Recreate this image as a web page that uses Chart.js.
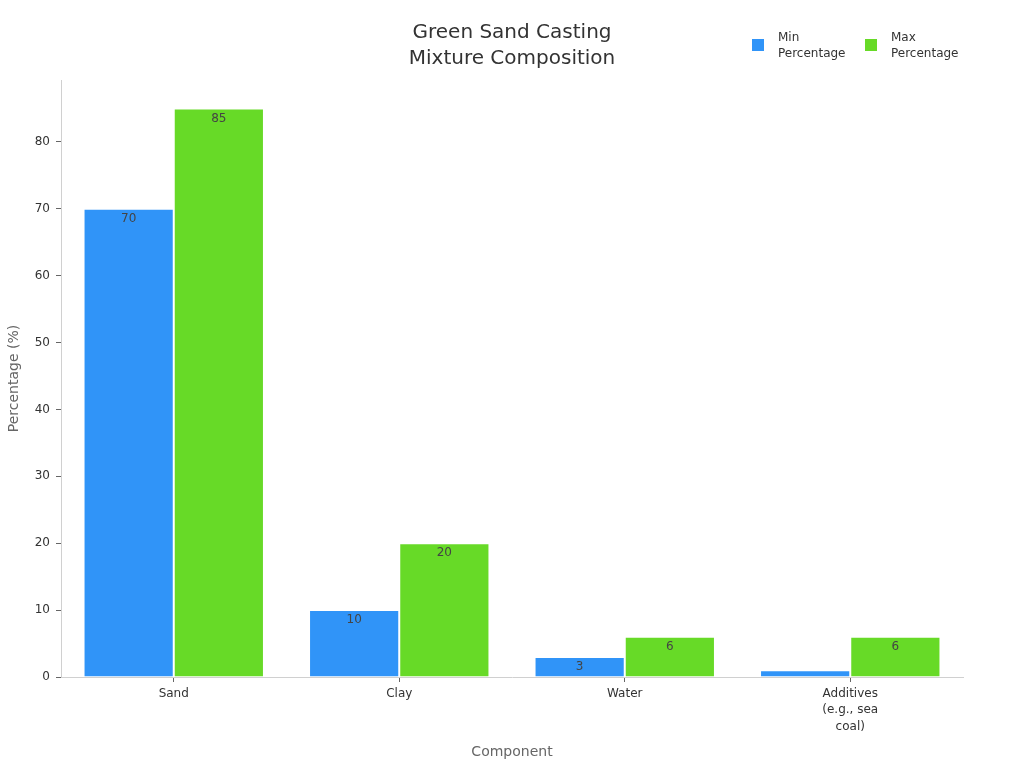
<!DOCTYPE html>
<html>
<head>
<meta charset="utf-8">
<script src="https://cdn.jsdelivr.net/npm/chart.js@4"></script>
<style>
  html, body { margin: 0; padding: 0; background: #fff; }
  #wrap { width: 1024px; height: 768px; }
</style>
</head>
<body>
<div id="wrap"><canvas id="chart" width="1024" height="768"></canvas></div>
<script>
const categories = ['Sand', 'Clay', 'Water', ['Additives', '(e.g., sea', 'coal)']]
const minValues = [70, 10, 3, 1]
const maxValues = [85, 20, 6, 6]
const seriesNames = [['Min', 'Percentage'], ['Max', 'Percentage']]
const seriesColors = ['#3094F8', '#67DA27']

const FONT = "'DejaVu Sans', sans-serif"

// подписи значений внутри столбцов
const barLabels = {
    id: 'barLabels',
    afterDatasetsDraw(chart) {
        const ctx = chart.ctx
        ctx.save()
        ctx.font = '12px ' + FONT
        ctx.fillStyle = '#444'
        ctx.textAlign = 'center'
        ctx.textBaseline = 'middle'
        chart.data.datasets.forEach((ds, i) => {
            chart.getDatasetMeta(i).data.forEach((bar, j) => {
                if (bar.base - bar.y < 14) return
                ctx.fillText(String(ds.data[j]), bar.x, bar.y + 10)
            })
        })
        ctx.restore()
    }
}

// легенда справа вверху, подписи в две строки
const sideLegend = {
    id: 'sideLegend',
    afterDraw(chart) {
        const ctx = chart.ctx
        const xs = [752, 865]
        ctx.save()
        ctx.font = '12px ' + FONT
        ctx.textBaseline = 'middle'
        ctx.textAlign = 'left'
        seriesNames.forEach((lines, i) => {
            ctx.fillStyle = seriesColors[i]
            ctx.fillRect(xs[i], 39, 12, 12)
            ctx.fillStyle = '#333'
            lines.forEach((t, k) => ctx.fillText(t, xs[i] + 26, 38 + k * 16))
        })
        ctx.restore()
    }
}

function drawChart() {
    const ctx = document.getElementById('chart')
    new Chart(ctx, {
        type: 'bar',
        data: {
            labels: categories,
            datasets: [{
                label: seriesNames[0].join(' '),
                data: minValues,
                backgroundColor: seriesColors[0],
                borderColor: 'rgba(255,255,255,0.45)',
                borderWidth: 1
            }, {
                label: seriesNames[1].join(' '),
                data: maxValues,
                backgroundColor: seriesColors[1],
                borderColor: 'rgba(255,255,255,0.45)',
                borderWidth: 1
            }]
        },
        options: {
            responsive: false,
            animation: false,
            layout: { padding: 0 },
            datasets: { bar: { categoryPercentage: 0.8, barPercentage: 1.0 } },
            plugins: {
                legend: { display: false },
                tooltip: { enabled: false },
                title: {
                    display: true,
                    text: ['Green Sand Casting', 'Mixture Composition'],
                    color: '#333',
                    font: { family: FONT, size: 20, weight: 'normal', lineHeight: 1.3 },
                    padding: { top: 20, bottom: 8 }
                }
            },
            scales: {
                x: {
                    afterFit: (s) => { s.height = 91 },
                    grid: { display: true, offset: false, drawOnChartArea: false, tickLength: 5, color: '#666' },
                    border: { color: '#d0d0d0' },
                    ticks: { color: '#333', padding: 4, font: { family: FONT, size: 12, lineHeight: 1.35 } },
                    title: {
                        display: true, text: 'Component', color: '#666',
                        font: { family: FONT, size: 14 }, padding: { top: 0, bottom: 7 }
                    }
                },
                y: {
                    min: 0,
                    max: 89.25,
                    afterFit: (s) => { s.width = 61 },
                    grid: { display: true, drawOnChartArea: false, tickLength: 5, color: '#666' },
                    border: { color: '#d0d0d0' },
                    ticks: { stepSize: 10, includeBounds: false, color: '#333', padding: 6, font: { family: FONT, size: 12 } },
                    title: {
                        display: true, text: 'Percentage (%)', color: '#666',
                        font: { family: FONT, size: 14 }, padding: { top: 6, bottom: 0 }
                    }
                },
                // пустая ось справа, чтобы оставить поле как в оригинале
                right: {
                    position: 'right',
                    min: 0,
                    max: 1,
                    afterFit: (s) => { s.width = 61 },
                    grid: { display: false },
                    border: { display: false },
                    ticks: { display: false }
                }
            }
        },
        plugins: [barLabels, sideLegend]
    })
}

drawChart()
</script>
</body>
</html>
